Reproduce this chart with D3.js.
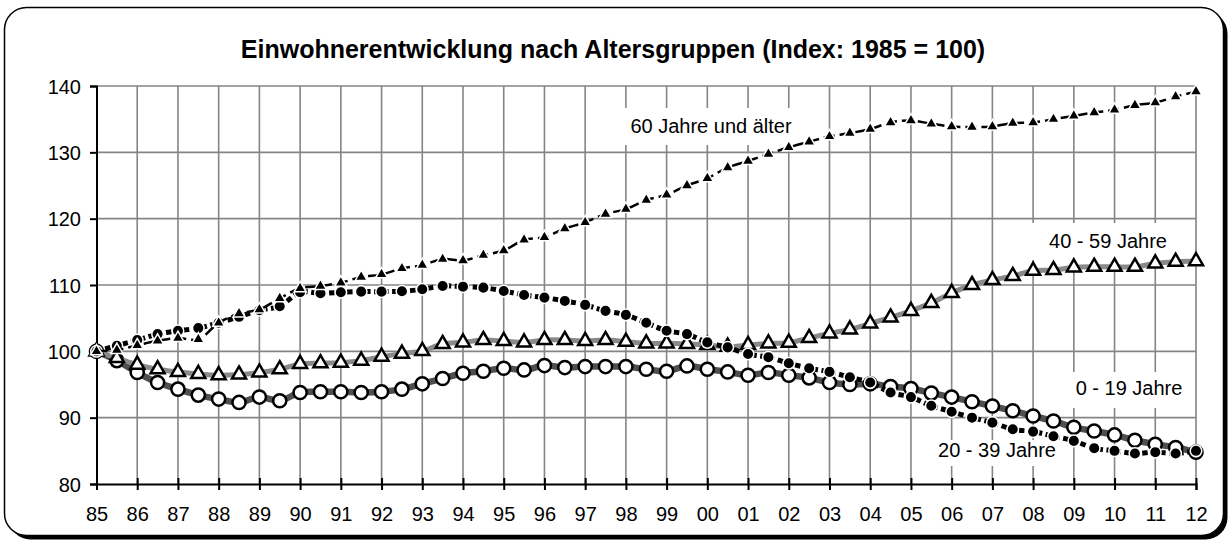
<!DOCTYPE html>
<html>
<head>
<meta charset="utf-8">
<script src="https://cdn.jsdelivr.net/npm/d3@7"></script>
<style>
	body { margin: 0; background: #fff; }
	text { font-family: "Liberation Sans", Arial, sans-serif; }
</style>
</head>
<body>
<div id="chart"><svg width="1228" height="540"></svg></div>
<script>
var title = 'Einwohnerentwicklung nach Altersgruppen (Index: 1985 = 100)';

var years = [1985, 1985.5, 1986, 1986.5, 1987, 1987.5, 1988, 1988.5, 1989, 1989.5,
	1990, 1990.5, 1991, 1991.5, 1992, 1992.5, 1993, 1993.5, 1994, 1994.5,
	1995, 1995.5, 1996, 1996.5, 1997, 1997.5, 1998, 1998.5, 1999, 1999.5,
	2000, 2000.5, 2001, 2001.5, 2002, 2002.5, 2003, 2003.5, 2004, 2004.5,
	2005, 2005.5, 2006, 2006.5, 2007, 2007.5, 2008, 2008.5, 2009, 2009.5,
	2010, 2010.5, 2011, 2011.5, 2012];

var tickYears = [1985, 1986, 1987, 1988, 1989, 1990, 1991, 1992, 1993, 1994, 1995, 1996, 1997, 1998,
	1999, 2000, 2001, 2002, 2003, 2004, 2005, 2006, 2007, 2008, 2009, 2010, 2011, 2012];
var tickLabels = ['85', '86', '87', '88', '89', '90', '91', '92', '93', '94', '95', '96', '97', '98',
	'99', '00', '01', '02', '03', '04', '05', '06', '07', '08', '09', '10', '11', '12'];
var yTicks = [80, 90, 100, 110, 120, 130, 140];

// 0 - 19 Jahre
var age0to19 = [100, 98.6, 96.8, 95.3, 94.3, 93.4, 92.8, 92.3, 93.1, 92.55,
	93.8, 93.9, 93.9, 93.8, 93.9, 94.3, 95.1, 95.9, 96.7, 97.0,
	97.45, 97.2, 97.85, 97.55, 97.7, 97.7, 97.7, 97.3, 97.0, 97.8,
	97.3, 96.9, 96.4, 96.8, 96.4, 96.0, 95.3, 95.0, 95.1, 94.7,
	94.4, 93.7, 93.1, 92.4, 91.75, 91.05, 90.25, 89.5, 88.55, 88.0,
	87.4, 86.6, 86.0, 85.5, 84.8];

// 20 - 39 Jahre
var age20to39 = [100, 100.85, 101.7, 102.6, 103.1, 103.5, 104.3, 105.2, 106.2, 106.8,
	108.9, 108.75, 108.9, 109.0, 109.0, 109.05, 109.35, 109.85, 109.75, 109.6,
	109.1, 108.5, 108.1, 107.6, 107.0, 106.1, 105.5, 104.3, 103.1, 102.6,
	101.35, 100.6, 99.6, 99.1, 98.2, 97.45, 96.9, 96.1, 95.3, 93.8,
	93.1, 91.8, 90.9, 90.0, 89.25, 88.25, 87.9, 87.2, 86.5, 85.4,
	85.0, 84.6, 84.8, 84.6, 85.0];

// 40 - 59 Jahre
var age40to59 = [100, 99.0, 98.0, 97.3, 96.9, 96.6, 96.4, 96.5, 96.8, 97.3,
	98.1, 98.2, 98.3, 98.6, 99.2, 99.65, 100.05, 101.1, 101.35, 101.7,
	101.55, 101.35, 101.7, 101.7, 101.55, 101.7, 101.45, 101.2, 101.2, 101.1,
	100.95, 100.7, 100.95, 101.2, 101.3, 102.0, 102.7, 103.3, 104.2, 105.1,
	106.1, 107.3, 108.8, 110.0, 110.75, 111.35, 112.15, 112.25, 112.65, 112.75,
	112.75, 112.75, 113.25, 113.5, 113.6];

// 60 Jahre und älter
var age60plus = [100, 100.2, 100.9, 101.6, 102.0, 101.8, 104.3, 105.7, 106.3, 108.0,
	109.5, 109.85, 110.35, 111.2, 111.6, 112.5, 113.0, 113.9, 113.7, 114.5,
	115.2, 116.8, 117.2, 118.5, 119.45, 120.7, 121.45, 122.8, 123.6, 125.0,
	126.1, 127.7, 128.7, 129.75, 130.75, 131.6, 132.4, 132.9, 133.5, 134.5,
	134.8, 134.3, 133.9, 133.8, 133.9, 134.4, 134.5, 135.0, 135.5, 136.0,
	136.4, 137.1, 137.5, 138.4, 139.15];

var seriesNames = ['0 - 19 Jahre', '40 - 59 Jahre', '20 - 39 Jahre', '60 Jahre und älter'];

var svg = d3.select('#chart > svg');
var plot = { left: 96.5, right: 1196, top: 86, bottom: 484 };

// frame with shadow
svg.append('rect')
	.attr('x', 8.5).attr('y', 11.5).attr('width', 1219).attr('height', 528)
	.attr('rx', 22).attr('fill', '#000');
svg.append('rect')
	.attr('x', 4.5).attr('y', 7.5).attr('width', 1219).attr('height', 528)
	.attr('rx', 22).attr('fill', '#fff').attr('stroke', '#000').attr('stroke-width', 1.5);

svg.append('text')
	.attr('x', 613).attr('y', 58)
	.attr('text-anchor', 'middle')
	.style('font-size', '25px').style('font-weight', 'bold')
	.text(title);

var x = d3.scaleLinear().domain([1985, 2012]).range([plot.left, plot.right]);
var y = d3.scaleLinear().domain([80, 140]).range([plot.bottom, plot.top]);

// grid
var grid = svg.append('g').attr('stroke', '#858585').attr('stroke-width', 1.6);
grid.selectAll('.vg').data(tickYears.slice(1)).enter().append('line')
	.attr('x1', function(d) { return x(d) }).attr('x2', function(d) { return x(d) })
	.attr('y1', plot.top).attr('y2', plot.bottom);
grid.selectAll('.hg').data(yTicks.slice(1)).enter().append('line')
	.attr('x1', plot.left).attr('x2', plot.right)
	.attr('y1', function(d) { return y(d) }).attr('y2', function(d) { return y(d) });

// labels with white boxes (over the grid, under the lines)
var labels = [
	{ text: seriesNames[3], x: 711, y: 133, box: [620, 108, 176, 37] },
	{ text: seriesNames[1], x: 1108, y: 248, box: [1030, 223, 156, 37] },
	{ text: seriesNames[0], x: 1129, y: 395, box: [1062, 372, 128, 36] },
	{ text: seriesNames[2], x: 997, y: 457, box: [930, 440, 134, 26] }
];
labels.forEach(function(l) {
	svg.append('rect')
		.attr('x', l.box[0]).attr('y', l.box[1]).attr('width', l.box[2]).attr('height', l.box[3])
		.attr('fill', '#fff');
	svg.append('text')
		.attr('x', l.x).attr('y', l.y)
		.attr('text-anchor', 'middle')
		.style('font-size', '20px')
		.text(l.text);
});

// axes
var yAxis = svg.append('g')
	.attr('transform', 'translate(' + plot.left + ',0)')
	.call(d3.axisLeft(y).tickValues(yTicks).tickSize(6.5).tickPadding(9));
var xAxis = svg.append('g')
	.attr('transform', 'translate(0,' + plot.bottom + ')')
	.call(d3.axisBottom(x).tickValues(tickYears).tickSize(6).tickPadding(17)
		.tickFormat(function(d, i) { return tickLabels[i] }));
[yAxis, xAxis].forEach(function(a) {
	a.select('.domain').attr('stroke', '#000').attr('stroke-width', 2);
	a.selectAll('.tick line').attr('stroke', '#000').attr('stroke-width', 2);
	a.selectAll('.tick text').style('font-size', '20px').attr('fill', '#000')
		.style('font-family', '"Liberation Sans", Arial, sans-serif');
});
xAxis.selectAll('.tick line').attr('y1', -6);
yAxis.selectAll('.tick text').attr('dy', '0.35em');

// series
var curve = d3.curveCatmullRom.alpha(0.5);
function drawSeries(values, lineStyle, marker) {
	var pts = values.map(function(v, i) { return [years[i], v] });
	var line = d3.line()
		.x(function(d) { return x(d[0]) })
		.y(function(d) { return y(d[1]) })
		.curve(curve);
	var g = svg.append('g');
	g.append('path')
		.datum(pts)
		.attr('d', line)
		.attr('fill', 'none')
		.attr('stroke', lineStyle.color)
		.attr('stroke-width', lineStyle.width)
		.attr('stroke-dasharray', lineStyle.dash || null);
	var sym = d3.symbol().type(marker.type).size(marker.size);
	g.selectAll('.m').data(pts).enter().append('path')
		.attr('transform', function(d) { return 'translate(' + x(d[0]) + ',' + y(d[1]) + ')' })
		.attr('d', sym)
		.attr('fill', marker.fill)
		.attr('stroke', marker.stroke)
		.attr('stroke-width', marker.strokeWidth);
}

drawSeries(age0to19, { color: '#4f4f4f', width: 6.5 },
	{ type: d3.symbolCircle, size: 135, fill: '#fff', stroke: '#000', strokeWidth: 2.5 });
drawSeries(age40to59, { color: '#8a8a8a', width: 5 },
	{ type: d3.symbolTriangle, size: 85, fill: '#fff', stroke: '#000', strokeWidth: 2.5 });
drawSeries(age20to39, { color: '#000', width: 5, dash: '5.5,3.5' },
	{ type: d3.symbolCircle, size: 105, fill: '#000', stroke: '#fff', strokeWidth: 1.5 });
drawSeries(age60plus, { color: '#000', width: 2.5, dash: '11,5' },
	{ type: d3.symbolTriangle, size: 62, fill: '#000', stroke: '#fff', strokeWidth: 1.5 });
</script>
</body>
</html>
